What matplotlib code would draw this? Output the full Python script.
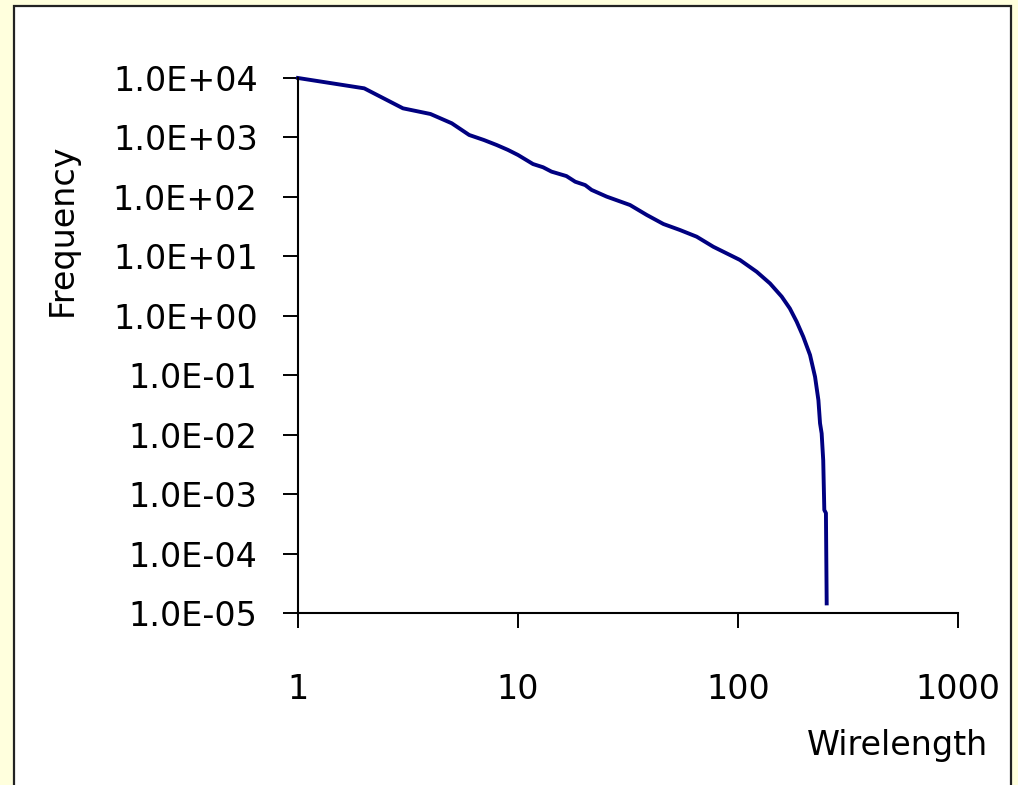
import matplotlib
matplotlib.use("Agg")
import matplotlib.pyplot as plt
from matplotlib.patches import Rectangle
from matplotlib.ticker import FixedLocator, FixedFormatter, NullLocator

# Wirelength distribution (log-log)
wirelength = [1, 2, 3, 4, 5, 6, 7, 8, 9, 10, 11.7, 13, 14.2, 16.6, 18.2, 20.2,
              21.6, 25.3, 32.3, 38.5, 45.8, 54.5, 64.9, 77.2, 102, 121.6, 139.8,
              158, 172, 184.8, 198, 212.5, 224, 232, 236, 240, 244, 246.8, 251, 253]
frequency = [10000, 6700, 3090, 2480, 1730, 1100, 905, 746, 617, 507, 357, 315,
             266, 224, 180, 158, 131, 101, 73, 49.6, 35, 27.7, 21.4, 14.5, 8.7,
             5.5, 3.5, 2.1, 1.33, 0.795, 0.444, 0.219, 0.094, 0.038, 0.0155,
             0.0105, 0.0037, 0.00054, 0.00048, 1.45e-5]

x_ticks = [1, 10, 100, 1000]
x_tick_labels = ["1", "10", "100", "1000"]
y_ticks = [1e4, 1e3, 1e2, 1e1, 1e0, 1e-1, 1e-2, 1e-3, 1e-4, 1e-5]
y_tick_labels = ["1.0E+04", "1.0E+03", "1.0E+02", "1.0E+01", "1.0E+00",
                 "1.0E-01", "1.0E-02", "1.0E-03", "1.0E-04", "1.0E-05"]

W, H = 1018, 785
plt.rcParams['font.family'] = ['DejaVu Sans']
fig = plt.figure(figsize=(W / 100, H / 100), dpi=100, facecolor="#FFFFDD")

# white chart panel with dark frame
fig.patches.append(Rectangle((14 / W, -0.02), (1011 - 14) / W, (H - 6) / H + 0.02,
                             transform=fig.transFigure, facecolor="white",
                             edgecolor="#222222", linewidth=1.6, zorder=-10))

ax = fig.add_axes([298 / W, (H - 613) / H, (958 - 298) / W, (613 - 78) / H])
ax.set_zorder(5)
ax.patch.set_visible(False)
ax.plot(wirelength, frequency, color="#000080", linewidth=2.8, clip_on=False,
        solid_joinstyle="round")

ax.set_xscale("log")
ax.set_yscale("log")
ax.set_xlim(1, 1000)
ax.set_ylim(1e-5, 1e4)

ax.xaxis.set_major_locator(FixedLocator(x_ticks))
ax.xaxis.set_major_formatter(FixedFormatter(x_tick_labels))
ax.yaxis.set_major_locator(FixedLocator(y_ticks))
ax.yaxis.set_major_formatter(FixedFormatter(y_tick_labels))
ax.xaxis.set_minor_locator(NullLocator())
ax.yaxis.set_minor_locator(NullLocator())

for side in ("top", "right"):
    ax.spines[side].set_visible(False)
for side in ("left", "bottom"):
    ax.spines[side].set_linewidth(1.5)
    ax.spines[side].set_color("black")

ax.tick_params(axis="y", direction="out", length=11, width=1.4, pad=18,
               labelsize=24, colors="black")
ax.tick_params(axis="x", direction="out", length=10.5, width=1.4, pad=33,
               labelsize=24, colors="black")

fig.text(62 / W, (H - 230) / H, "Frequency", rotation=90, ha="center",
         va="center", fontsize=24, zorder=6)
fig.text(988 / W, (H - 745) / H, "Wirelength", ha="right", va="center",
         fontsize=24, zorder=6)

fig.savefig("out.png", dpi=100, facecolor=fig.get_facecolor())
